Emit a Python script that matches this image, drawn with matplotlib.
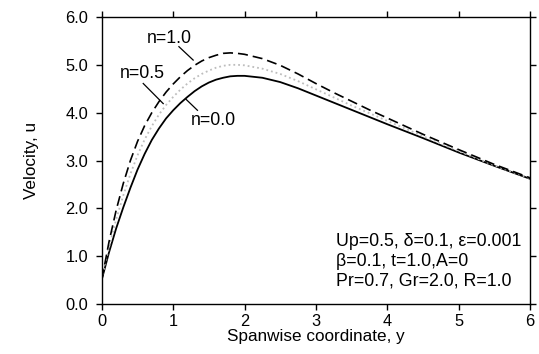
import numpy as np
import matplotlib
matplotlib.use("Agg")
import matplotlib.pyplot as plt

plt.rcParams['font.family'] = ['Liberation Sans', 'DejaVu Sans']

# spanwise coordinate
y = [0.0, 0.1, 0.2, 0.3, 0.4, 0.5, 0.6, 0.7, 0.8, 0.9, 1.0, 1.1, 1.2, 1.3, 1.4,
     1.5, 1.6, 1.7, 1.8, 1.9, 2.0, 2.25, 2.5, 2.75, 3.0, 3.25, 3.5, 3.75, 4.0,
     4.5, 5.0, 5.5, 6.0]
# velocity for n=0.0, 0.5, 1.0
u_n00 = [0.52, 1.08, 1.58, 2.02, 2.43, 2.81, 3.14, 3.43, 3.67, 3.88, 4.05, 4.20,
         4.33, 4.45, 4.55, 4.63, 4.69, 4.73, 4.76, 4.77, 4.77, 4.73, 4.64, 4.51,
         4.36, 4.21, 4.06, 3.91, 3.76, 3.47, 3.17, 2.89, 2.62]
u_n05 = [0.52, 1.19, 1.77, 2.27, 2.72, 3.11, 3.44, 3.72, 3.96, 4.16, 4.33, 4.48,
         4.61, 4.72, 4.81, 4.88, 4.94, 4.98, 5.00, 5.00, 4.99, 4.92, 4.81, 4.66,
         4.49, 4.32, 4.15, 3.99, 3.83, 3.51, 3.20, 2.90, 2.63]
u_n10 = [0.52, 1.30, 1.96, 2.52, 3.00, 3.40, 3.73, 4.00, 4.23, 4.43, 4.60, 4.75,
         4.88, 4.99, 5.08, 5.15, 5.20, 5.24, 5.25, 5.24, 5.22, 5.13, 4.99, 4.81,
         4.61, 4.42, 4.24, 4.06, 3.89, 3.55, 3.23, 2.92, 2.64]

xticks = [0, 1, 2, 3, 4, 5, 6]
yticks = [0.0, 1.0, 2.0, 3.0, 4.0, 5.0, 6.0]

fig = plt.figure(figsize=(5.39, 3.54), dpi=100)
ax = fig.add_axes([0.189, 0.141, 0.794, 0.811])

ax.plot(y, u_n00, 'k-', lw=1.3, solid_joinstyle='round')
ax.plot(y, u_n05, ':', color='#bdbdbd', lw=1.3)
ax.plot(y, u_n10, 'k--', lw=1.2, dashes=(6, 3))

ax.set_xlim(0, 6)
ax.set_ylim(0, 6)
ax.set_xticks(xticks)
ax.set_xticklabels([str(v) for v in xticks])
ax.set_yticks(yticks)
ax.set_yticklabels(["%.1f" % v for v in yticks])
ax.tick_params(direction='out', top=True, right=True, length=4, width=1,
               labelsize=11.8)
ax.tick_params(axis='y', pad=6)
ax.tick_params(axis='x', pad=3)
for s in ax.spines.values():
    s.set_linewidth(1.0)

ax.set_xlabel("Spanwise coordinate, y", fontsize=12.3, labelpad=0)
ax.set_ylabel("Velocity, u", fontsize=12.3, labelpad=19)

# curve labels with leader lines
ax.text(0.94, 5.55, "n=1.0", fontsize=12.8, ha='center', va='center')
ax.plot([1.08, 1.28], [5.38, 5.10], 'k-', lw=0.9)
ax.text(0.57, 4.81, "n=0.5", fontsize=12.8, ha='center', va='center')
ax.plot([0.58, 0.86], [4.61, 4.19], 'k-', lw=0.9)
ax.text(1.57, 3.84, "n=0.0", fontsize=12.8, ha='center', va='center')
ax.plot([1.18, 1.34], [4.28, 4.05], 'k-', lw=0.9)

ax.text(3.28, 0.9, "Up=0.5, \u03b4=0.1, \u03b5=0.001\n\u03b2=0.1, t=1.0,A=0\nPr=0.7, Gr=2.0, R=1.0",
        fontsize=12.8, ha='left', va='center', linespacing=1.2)

plt.savefig("out.png", dpi=100)
